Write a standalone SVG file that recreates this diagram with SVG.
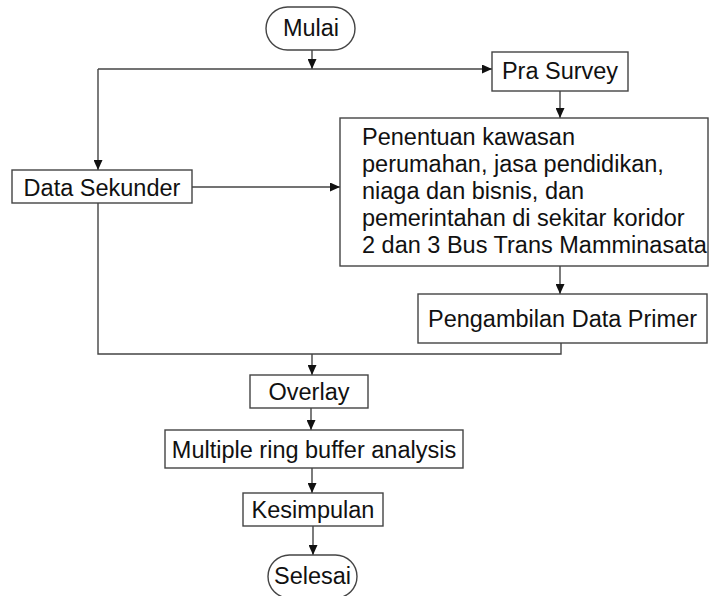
<svg xmlns="http://www.w3.org/2000/svg" width="709" height="596" viewBox="0 0 709 596">
<style>
.box{fill:#fff;stroke:#444;stroke-width:1.4}
.t{font-family:"Liberation Sans",Arial,sans-serif;font-size:23.5px;fill:#111}
.c{text-anchor:middle}
.ln{fill:none;stroke:#444;stroke-width:1.4}
</style>
<defs>
<marker id="ah" markerUnits="userSpaceOnUse" markerWidth="10" markerHeight="9" refX="10" refY="4.5" orient="auto">
<path d="M0,0 L10,4.5 L0,9 z" fill="#111"/>
</marker>
</defs>
<rect width="709" height="596" fill="#fff"/>
<g id="connectors">
<line class="ln" x1="312" y1="50" x2="312" y2="69" marker-end="url(#ah)"/>
<line class="ln" x1="98" y1="69" x2="492" y2="69" marker-end="url(#ah)"/>
<line class="ln" x1="98" y1="69" x2="98" y2="170" marker-end="url(#ah)"/>
<line class="ln" x1="192" y1="187" x2="340" y2="187" marker-end="url(#ah)"/>
<line class="ln" x1="560" y1="91" x2="560" y2="118" marker-end="url(#ah)"/>
<line class="ln" x1="560" y1="266" x2="560" y2="294" marker-end="url(#ah)"/>
<path class="ln" d="M98,203 L98,354 L561,354 L561,343"/>
<line class="ln" x1="312" y1="354" x2="312" y2="375" marker-end="url(#ah)"/>
<line class="ln" x1="311" y1="408" x2="311" y2="430" marker-end="url(#ah)"/>
<line class="ln" x1="312" y1="468" x2="312" y2="493" marker-end="url(#ah)"/>
<line class="ln" x1="313" y1="526" x2="313" y2="555" marker-end="url(#ah)"/>
</g>
<g id="mulai">
<rect class="box" x="266" y="7" width="89" height="43" rx="21.5" ry="21.5"/>
<text class="t c" x="311" y="36">Mulai</text>
</g>
<g id="pra-survey">
<rect class="box" x="492" y="52" width="136" height="39"/>
<text class="t c" x="560" y="79">Pra Survey</text>
</g>
<g id="data-sekunder">
<rect class="box" x="12" y="170" width="180" height="33"/>
<text class="t c" x="102" y="195.5">Data Sekunder</text>
</g>
<g id="penentuan">
<rect class="box" x="340" y="118" width="368" height="148"/>
<text class="t" x="362" y="145">Penentuan kawasan</text>
<text class="t" x="362" y="172">perumahan, jasa pendidikan,</text>
<text class="t" x="362" y="199">niaga dan bisnis, dan</text>
<text class="t" x="362" y="226">pemerintahan di sekitar koridor</text>
<text class="t" x="362" y="253">2 dan 3 Bus Trans Mamminasata</text>
</g>
<g id="pengambilan">
<rect class="box" x="418" y="294" width="289" height="49"/>
<text class="t c" x="562.5" y="327">Pengambilan Data Primer</text>
</g>
<g id="overlay">
<rect class="box" x="250" y="375" width="118" height="33"/>
<text class="t c" x="309" y="400">Overlay</text>
</g>
<g id="multiple">
<rect class="box" x="165" y="430" width="298" height="38"/>
<text class="t c" x="314" y="457.5">Multiple ring buffer analysis</text>
</g>
<g id="kesimpulan">
<rect class="box" x="243" y="493" width="140" height="33"/>
<text class="t c" x="313" y="518">Kesimpulan</text>
</g>
<g id="selesai">
<rect class="box" x="268" y="555" width="89" height="43" rx="21.5" ry="21.5"/>
<text class="t c" x="312.5" y="584">Selesai</text>
</g>
</svg>
